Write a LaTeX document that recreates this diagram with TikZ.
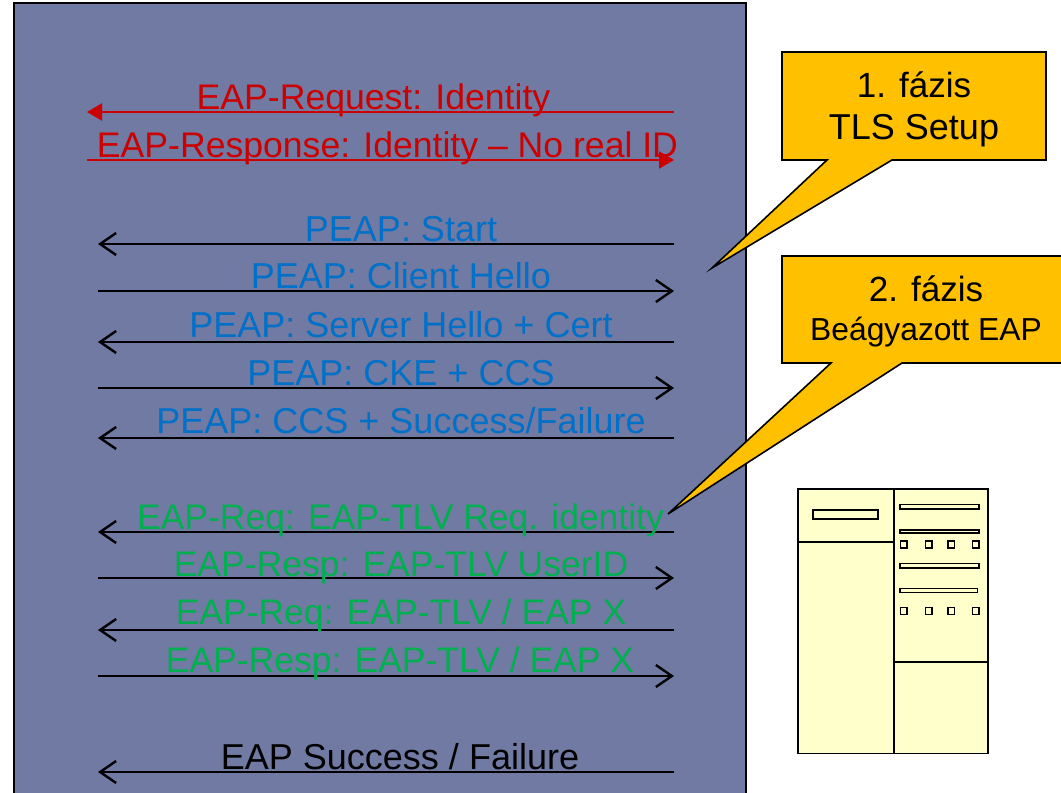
\documentclass[tikz,border=0pt]{standalone}
\usepackage{fontspec}
\setmainfont{Liberation Sans}
\usetikzlibrary{arrows.meta}
\definecolor{panelc}{HTML}{717AA2}
\definecolor{redc}{HTML}{CC0000}
\definecolor{bluec}{HTML}{0070C8}
\definecolor{greenc}{HTML}{00B050}
\definecolor{callc}{HTML}{FFC000}
\definecolor{servc}{HTML}{FFFFCC}
\tikzset{
 x=1pt,y=-1pt,
 msg/.style={anchor=base,inner sep=0pt,font=\fontsize{36}{40}\selectfont},
 redmsg/.style={anchor=base,inner sep=0pt,font=\fontsize{35.6}{40}\selectfont,text=redc},
 bluemsg/.style={msg,text=bluec},
 greenmsg/.style={anchor=base,inner sep=0pt,font=\fontsize{35.5}{40}\selectfont,text=greenc},
 blackmsg/.style={msg,text=black},
 flow/.style={line width=2.4pt,draw=black,-{Straight Barb[length=16pt,width=22pt,line width=2.4pt]}},
 redflow/.style={line width=2.4pt,draw=redc,-{Triangle[length=15pt,width=17pt]}},
 callout/.style={draw=black,line width=1.6pt,fill=callc,line join=miter},
 calltext/.style={anchor=base,inner sep=0pt,text=black},
 serv/.style={draw=black,line width=1.1pt,fill=servc},
 bar/.style={draw=black,line width=1.1pt,fill=servc},
}
\begin{document}
\begin{tikzpicture}
\useasboundingbox (0,0) rectangle (1061,793);
\clip (0,0) rectangle (1061,793);
\fill[white] (0,0) rectangle (1061,793);
\draw[draw=black,line width=2pt,fill=panelc] (14,3) rectangle (746,810);
% end points of the flows
\foreach \n/\y in {a/112,b/160,c/244,d/291,e/342,f/388,g/438,h/532,i/578,j/630,k/676,l/772}{
  \coordinate (L\n) at (98,\y);
  \coordinate (R\n) at (674,\y);
}
\coordinate (Lared) at (87,112);
\coordinate (Lbred) at (87,160);
\draw[redflow] (Ra) -- (Lared);
\draw[redflow] (Lbred) -- (Rb);
\draw[flow] (Rc) -- (Lc);
\draw[flow] (Ld) -- (Rd);
\draw[flow] (Re) -- (Le);
\draw[flow] (Lf) -- (Rf);
\draw[flow] (Rg) -- (Lg);
\draw[flow] (Rh) -- (Lh);
\draw[flow] (Li) -- (Ri);
\draw[flow] (Rj) -- (Lj);
\draw[flow] (Lk) -- (Rk);
\draw[flow] (Rl) -- (Ll);
% labels
\node[redmsg] (t1) at (373.5,109) {EAP-Request: Identity};
\node[redmsg] (t2) at (387.5,157) {EAP-Response: Identity – No real ID};
\node[bluemsg] (t3) at (401,241) {PEAP: Start};
\node[bluemsg] (t4) at (401,288) {PEAP: Client Hello};
\node[bluemsg] (t5) at (401,337) {PEAP: Server Hello + Cert};
\node[bluemsg] (t6) at (401,385) {PEAP: CKE + CCS};
\node[bluemsg] (t7) at (401,433) {PEAP: CCS + Success/Failure};
\node[greenmsg] (t8) at (400.5,529) {EAP-Req: EAP-TLV Req. identity};
\node[greenmsg] (t9) at (401,576) {EAP-Resp: EAP-TLV UserID};
\node[greenmsg] (t10) at (401,624) {EAP-Req: EAP-TLV / EAP X};
\node[greenmsg] (t11) at (400,672) {EAP-Resp: EAP-TLV / EAP X};
\node[blackmsg] (t12) at (400,769) {EAP Success / Failure};
% callouts
\draw[callout] (782,52) -- (1046,52) -- (1046,160) -- (892,160) -- (712,268) -- (827,160) -- (782,160) -- cycle;
\draw[callout] (782,256) -- (1075,256) -- (1075,363) -- (902,363) -- (668,514) -- (831,363) -- (782,363) -- cycle;
\node[calltext,font=\fontsize{35}{40}\selectfont] (c1a) at (914,97) {1. fázis};
\node[calltext,font=\fontsize{36}{40}\selectfont] (c1b) at (914,139) {TLS Setup};
\node[calltext,font=\fontsize{35}{40}\selectfont] (c2a) at (926,301) {2. fázis};
\node[calltext,font=\fontsize{31.8}{36}\selectfont] (c2b) at (926,340) {Beágyazott EAP};
% server
\draw[serv] (798,489) rectangle (988,753.5);
\draw[serv] (798,489) rectangle (894,753.5);
\draw[serv] (798,489) rectangle (894,542);
\draw[serv] (894,489) rectangle (988,662);
\draw[bar] (813,510) rectangle (878,519);
\draw[bar] (900,504.5) rectangle (979,509);
\draw[bar] (900,530) rectangle (979,533);
\draw[bar] (900,563.5) rectangle (979,568);
\draw[bar] (900,588.5) rectangle (977.5,592.5);
\foreach \y in {541,607.5}{
  \draw[bar] (900.5,\y) rectangle (907,\y+7);
  \draw[bar] (925.5,\y) rectangle (932,\y+7);
  \draw[bar] (948,\y) rectangle (954.5,\y+7);
  \draw[bar] (972.5,\y) rectangle (979,\y+7);
}
\end{tikzpicture}
\end{document}
